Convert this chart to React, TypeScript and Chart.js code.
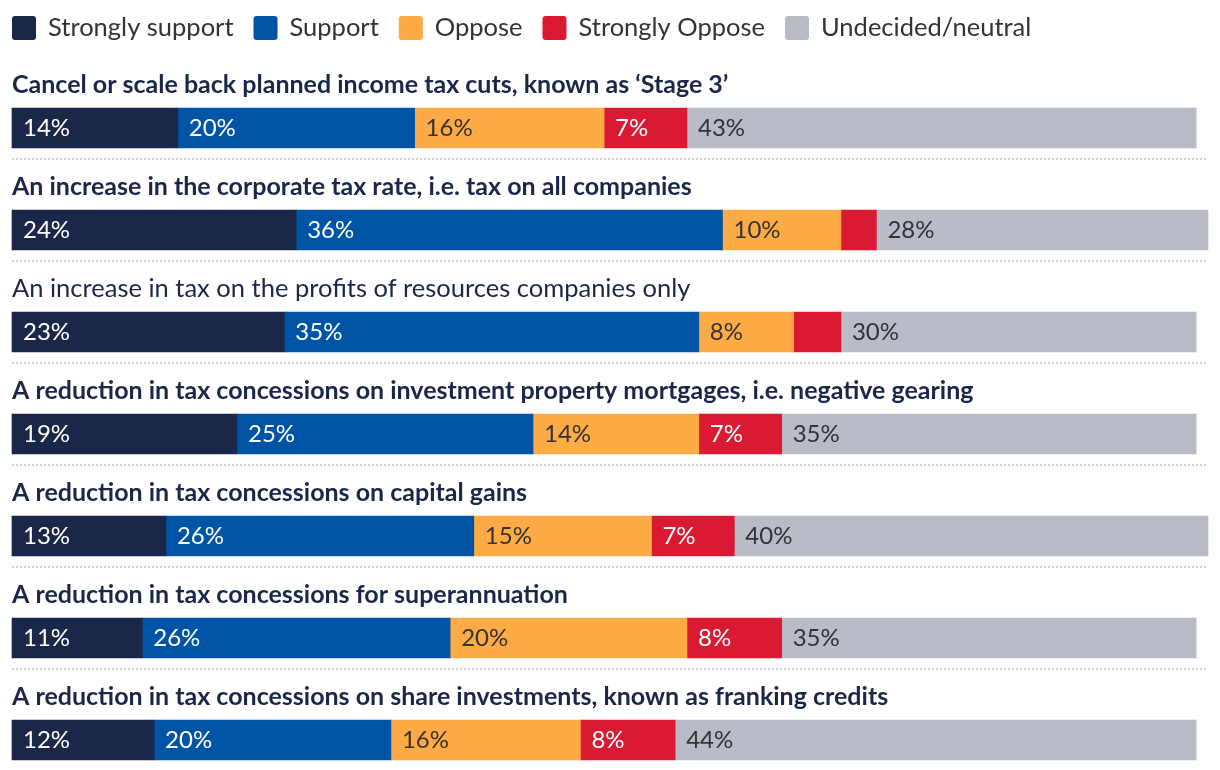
import React, { useEffect, useRef } from "react";
import { Chart, registerables } from "chart.js";

Chart.register(...registerables);

// ---- Data ----
const questions = [
  "Cancel or scale back planned income tax cuts, known as ‘Stage 3’",
  "An increase in the corporate tax rate, i.e. tax on all companies",
  "An increase in tax on the profits of resources companies only",
  "A reduction in tax concessions on investment property mortgages, i.e. negative gearing",
  "A reduction in tax concessions on capital gains",
  "A reduction in tax concessions for superannuation",
  "A reduction in tax concessions on share investments, known as franking credits",
];
const stronglySupport = [14, 24, 23, 19, 13, 11, 12];
const support = [20, 36, 35, 25, 26, 26, 20];
const oppose = [16, 10, 8, 14, 15, 20, 16];
const stronglyOppose = [7, 3, 4, 7, 7, 8, 8];
const undecided = [43, 28, 30, 35, 40, 35, 44];
const seriesNames = ["Strongly support", "Support", "Oppose", "Strongly Oppose", "Undecided/neutral"];

// ---- Styles ----
const seriesColors = ["#1b2748", "#0054a6", "#ffab45", "#da1a32", "#b9bcc6"];
const labelColors = ["#ffffff", "#ffffff", "#333333", "#ffffff", "#333333"];
const titleBold = [true, true, false, true, true, true, true];
const AXIS_MAX = 101;
const MIN_LABEL_VALUE = 5;
const FONT = "Lato, 'Noto Sans', sans-serif";

const overlayPlugin = {
  id: "overlay",
  afterDatasetsDraw(chart: any) {
    const ctx = chart.ctx as CanvasRenderingContext2D;
    const xScale = chart.scales.x;
    const yScale = chart.scales.y;
    ctx.save();

    // legend
    ctx.textBaseline = "alphabetic";
    ctx.textAlign = "left";
    ctx.font = `25.5px ${FONT}`;
    let lx = 12;
    chart.data.datasets.forEach((ds: any) => {
      ctx.fillStyle = ds.backgroundColor;
      ctx.beginPath();
      (ctx as any).roundRect(lx, 16, 24, 24, 3);
      ctx.fill();
      ctx.fillStyle = "#333333";
      ctx.fillText(ds.label, lx + 36, 36);
      lx += 36 + ctx.measureText(ds.label).width + 20;
    });

    const nRows = chart.data.labels.length;
    for (let r = 0; r < nRows; r++) {
      const cy = yScale.getPixelForValue(r);
      // title
      ctx.fillStyle = "#1b2748";
      ctx.font = titleBold[r] ? `bold 25px ${FONT}` : `25.5px ${FONT}`;
      ctx.fillText(chart.data.labels[r], xScale.left, cy - 35);
      // separator
      if (r < nRows - 1) {
        ctx.save();
        ctx.strokeStyle = "#d3d3d3";
        ctx.lineWidth = 2;
        ctx.setLineDash([2, 2]);
        ctx.beginPath();
        ctx.moveTo(xScale.left, cy + 31);
        ctx.lineTo(xScale.right, cy + 31);
        ctx.stroke();
        ctx.restore();
      }
      // value labels
      ctx.font = `24px ${FONT}`;
      chart.data.datasets.forEach((ds: any, d: number) => {
        const v = ds.data[r];
        if (v < MIN_LABEL_VALUE) return;
        const el: any = chart.getDatasetMeta(d).data[r];
        const start = Math.min(el.base, el.x);
        ctx.fillStyle = labelColors[d];
        ctx.fillText(`${v}%`, start + 11, cy + 8);
      });
    }
    ctx.restore();
  },
};

export default function App() {
  const canvasRef = useRef<HTMLCanvasElement | null>(null);

  useEffect(() => {
    const canvas = canvasRef.current;
    if (!canvas) return;
    const seriesData = [stronglySupport, support, oppose, stronglyOppose, undecided];
    const chart = new Chart(canvas, {
      type: "bar",
      data: {
        labels: questions,
        datasets: seriesNames.map((name, i) => ({
          label: name,
          data: seriesData[i],
          backgroundColor: seriesColors[i],
          borderWidth: 0,
          barThickness: 40,
          clip: false as any,
        })),
      },
      options: {
        indexAxis: "y",
        animation: false,
        responsive: false,
        devicePixelRatio: 1,
        layout: { padding: { top: 128, bottom: 30, left: 12, right: 12 } },
        scales: {
          x: { stacked: true, min: 0, max: AXIS_MAX, display: false },
          y: { stacked: true, display: false, offset: false },
        },
        plugins: {
          legend: { display: false },
          tooltip: { enabled: false },
        },
      },
      plugins: [overlayPlugin],
    });
    return () => chart.destroy();
  }, []);

  return (
    <div style={{ position: "fixed", left: 0, top: 0, width: 1220, height: 770, background: "#ffffff" }}>
      <canvas ref={canvasRef} width={1220} height={770} />
    </div>
  );
}
